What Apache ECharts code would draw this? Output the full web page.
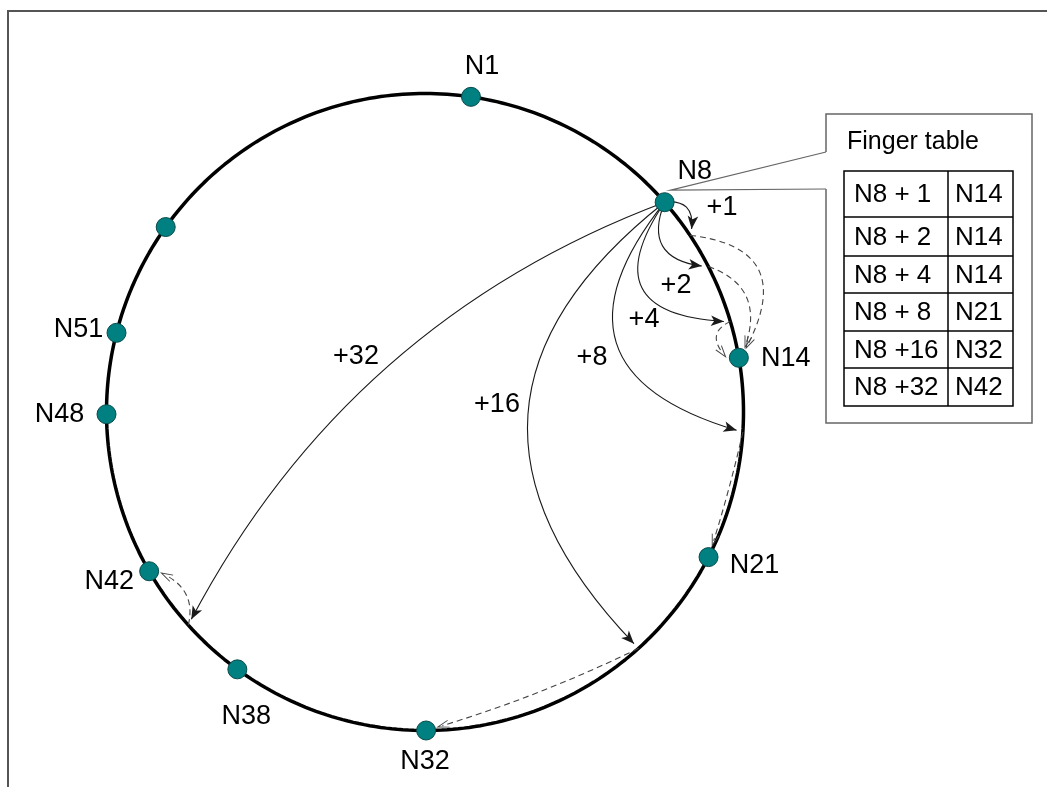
<!DOCTYPE html>
<html><head><meta charset="utf-8">
<script src="https://cdn.jsdelivr.net/npm/echarts@6/dist/echarts.min.js"></script>
<style>html,body{margin:0;padding:0;background:#fff}#c{width:1047px;height:787px}</style>
</head><body><div id="c"></div>
<script>
// ---- data ----
// ring nodes: name and angle (degrees, clockwise from top)
const nodeNames  = ['N1','N8','N14','N21','N32','N38','N42','N48','N51',''];
const nodeAngles = [8.3, 48.8, 80.2, 117.1, 179.8, 216.1, 240.0, 269.6, 284.4, 305.5];
// fingers of N8: label, ring angle of the finger target, successor node
const fingerLabels     = ['+1','+2','+4','+8','+16','+32'];
const fingerTipAngles  = [56.3, 62.8, 73.5, 93.6, 137.9, 228.0];
const fingerSuccessors = ['N14','N14','N14','N21','N32','N42'];
// finger table contents
const tableStarts = ['N8 + 1','N8 + 2','N8 + 4','N8 + 8','N8 +16','N8 +32'];
const tableNodes  = ['N14','N14','N14','N21','N32','N42'];
const sourceNode = 'N8';

// ---- layout / style ----
const W = 1047, H = 787, CX = 425, CY = 412, R = 318.5;
const NODE_R = 9.5, ARROW_LEN = 13, ARROW_W = 8;
const FONT = "'Liberation Sans', Arial, sans-serif";
const nodeLabelOffsets = [[11,-30],[30,-31],[47,1],[46,8],[-1,31],[9,47],[-40,10],[-47,0],[-38,-3],[0,0]];
const fingerLabelPos = [[722,208],[676,286],[644,320],[592,358],[497,405],[356,357]];
const solidCurveness  = [0.64, -0.65, -0.88, -0.74, -0.55, -0.19];
const dashedCurveness = [0.73, 0.50, -0.87, 0.02, 0.04, -0.43];
const rowEdges = [171,217,256,293,331,368,406];

function onRing(angleDeg) { const a = angleDeg*Math.PI/180; return [Math.sin(a), Math.cos(a)]; }
const toPx = p => [CX + R*p[0], CY - R*p[1]];
const toData = q => [(q[0]-CX)/R, (CY-q[1])/R];
function ctrl(p0, p2, c) { return [(p0[0]+p2[0])/2 - (p0[1]-p2[1])*c, (p0[1]+p2[1])/2 - (p2[0]-p0[0])*c]; }
// shorten the end of a curved edge by d px, keeping its control point
function trimEnd(a, b, c, d) {
  const p0 = toPx(a), p2 = toPx(b), C = ctrl(p0, p2, c);
  let ux = p2[0]-C[0], uy = p2[1]-C[1]; const L = Math.hypot(ux, uy); ux /= L; uy /= L;
  const q2 = [p2[0]-ux*d, p2[1]-uy*d];
  const M = [(p0[0]+q2[0])/2, (p0[1]+q2[1])/2];
  const perp = [q2[1]-p0[1], p0[0]-q2[0]];
  const c2 = ((C[0]-M[0])*perp[0] + (C[1]-M[1])*perp[1]) / (perp[0]*perp[0] + perp[1]*perp[1]);
  return { coords: [a, toData(q2)], lineStyle: { curveness: c2 } };
}

const nodePos = {};
nodeNames.forEach((n, i) => { if (n) nodePos[n] = onRing(nodeAngles[i]); });
const src = nodePos[sourceNode];

const ringData = [];
for (let a = 0; a <= 360; a += 1) ringData.push(onRing(a));

const solidEdges = fingerTipAngles.map((a, i) => trimEnd(src, onRing(a), solidCurveness[i], ARROW_LEN/2));
const dashedEdges = fingerTipAngles.map((a, i) => trimEnd(onRing(a), nodePos[fingerSuccessors[i]], dashedCurveness[i], NODE_R + 1 + ARROW_LEN/2));

const chart = echarts.init(document.getElementById('c'), null, { renderer: 'canvas' });
chart.setOption({
  animation: false,
  backgroundColor: '#fff',
  grid: { left: 0, right: 0, top: 0, bottom: 0 },
  xAxis: { type: 'value', min: -CX/R, max: (W-CX)/R, show: false },
  yAxis: { type: 'value', min: -(H-CY)/R, max: CY/R, show: false },
  series: [
    { type: 'line', data: ringData, showSymbol: false, silent: true, z: 1,
      lineStyle: { color: '#000', width: 3.5 } },
    { type: 'lines', coordinateSystem: 'cartesian2d', z: 2, data: solidEdges,
      symbol: ['none', 'arrow'], symbolSize: [0, [ARROW_W, ARROW_LEN]],
      lineStyle: { color: '#1a1a1a', width: 1.1, opacity: 1 } },
    { type: 'lines', coordinateSystem: 'cartesian2d', z: 2, data: dashedEdges,
      symbol: ['none', 'path://M0,12 L5,0 L10,12 L8.8,12 L5,3 L1.2,12 Z'], symbolSize: [0, [ARROW_W, ARROW_LEN]],
      lineStyle: { color: '#444', width: 1.1, type: [6, 4], opacity: 1 } },
    { type: 'scatter', z: 3, symbolSize: NODE_R*2, silent: true,
      itemStyle: { color: '#008080', borderColor: '#0a4a4a', borderWidth: 1, opacity: 1 },
      emphasis: { disabled: true },
      data: nodeAngles.map((a, i) => ({ value: onRing(a), name: nodeNames[i],
        label: { offset: nodeLabelOffsets[i] } })),
      label: { show: true, position: 'inside', formatter: p => p.name,
        fontFamily: FONT, fontSize: 27, color: '#000', opacity: 1 } }
  ]
});

const n8 = chart.convertToPixel({ gridIndex: 0 }, src);
const graphics = [];
// page frame
graphics.push({ type: 'polyline', shape: { points: [[8, H], [8, 11], [W, 11]] }, style: { stroke: '#555', lineWidth: 2, fill: null } });
// callout box
graphics.push({ type: 'polyline', shape: { points: [[826,152],[826,114],[1032,114],[1032,423],[826,423],[826,189]] }, style: { stroke: '#666', lineWidth: 1.5, fill: null } });
graphics.push({ type: 'polyline', shape: { points: [[826,152],[n8[0]+6, n8[1]-12],[826,189]] }, style: { stroke: '#666', lineWidth: 1.2, fill: null } });
graphics.push({ type: 'text', style: { text: 'Finger table', x: 847, y: 142, fontSize: 25, fontFamily: FONT, fill: '#000', textVerticalAlign: 'middle' } });
// table
graphics.push({ type: 'rect', shape: { x: 844, y: rowEdges[0], width: 169, height: rowEdges[rowEdges.length-1]-rowEdges[0] }, style: { stroke: '#000', lineWidth: 1.5, fill: null } });
graphics.push({ type: 'line', shape: { x1: 948, y1: rowEdges[0], x2: 948, y2: rowEdges[rowEdges.length-1] }, style: { stroke: '#000', lineWidth: 1.5 } });
tableStarts.forEach((t, i) => {
  if (i > 0) graphics.push({ type: 'line', shape: { x1: 844, y1: rowEdges[i], x2: 1013, y2: rowEdges[i] }, style: { stroke: '#000', lineWidth: 1.5 } });
  const yc = (rowEdges[i] + rowEdges[i+1]) / 2 + 1;
  graphics.push({ type: 'text', style: { text: t, x: 854, y: yc, fontSize: 26, fontFamily: FONT, fill: '#000', textVerticalAlign: 'middle' } });
  graphics.push({ type: 'text', style: { text: tableNodes[i], x: 955, y: yc, fontSize: 26, fontFamily: FONT, fill: '#000', textVerticalAlign: 'middle' } });
});
// finger labels
fingerLabels.forEach((t, i) => {
  graphics.push({ type: 'text', style: { text: t, x: fingerLabelPos[i][0], y: fingerLabelPos[i][1], fontSize: 27, fontFamily: FONT, fill: '#000', textAlign: 'center', textVerticalAlign: 'middle' } });
});
chart.setOption({ graphic: graphics });
</script></body></html>
